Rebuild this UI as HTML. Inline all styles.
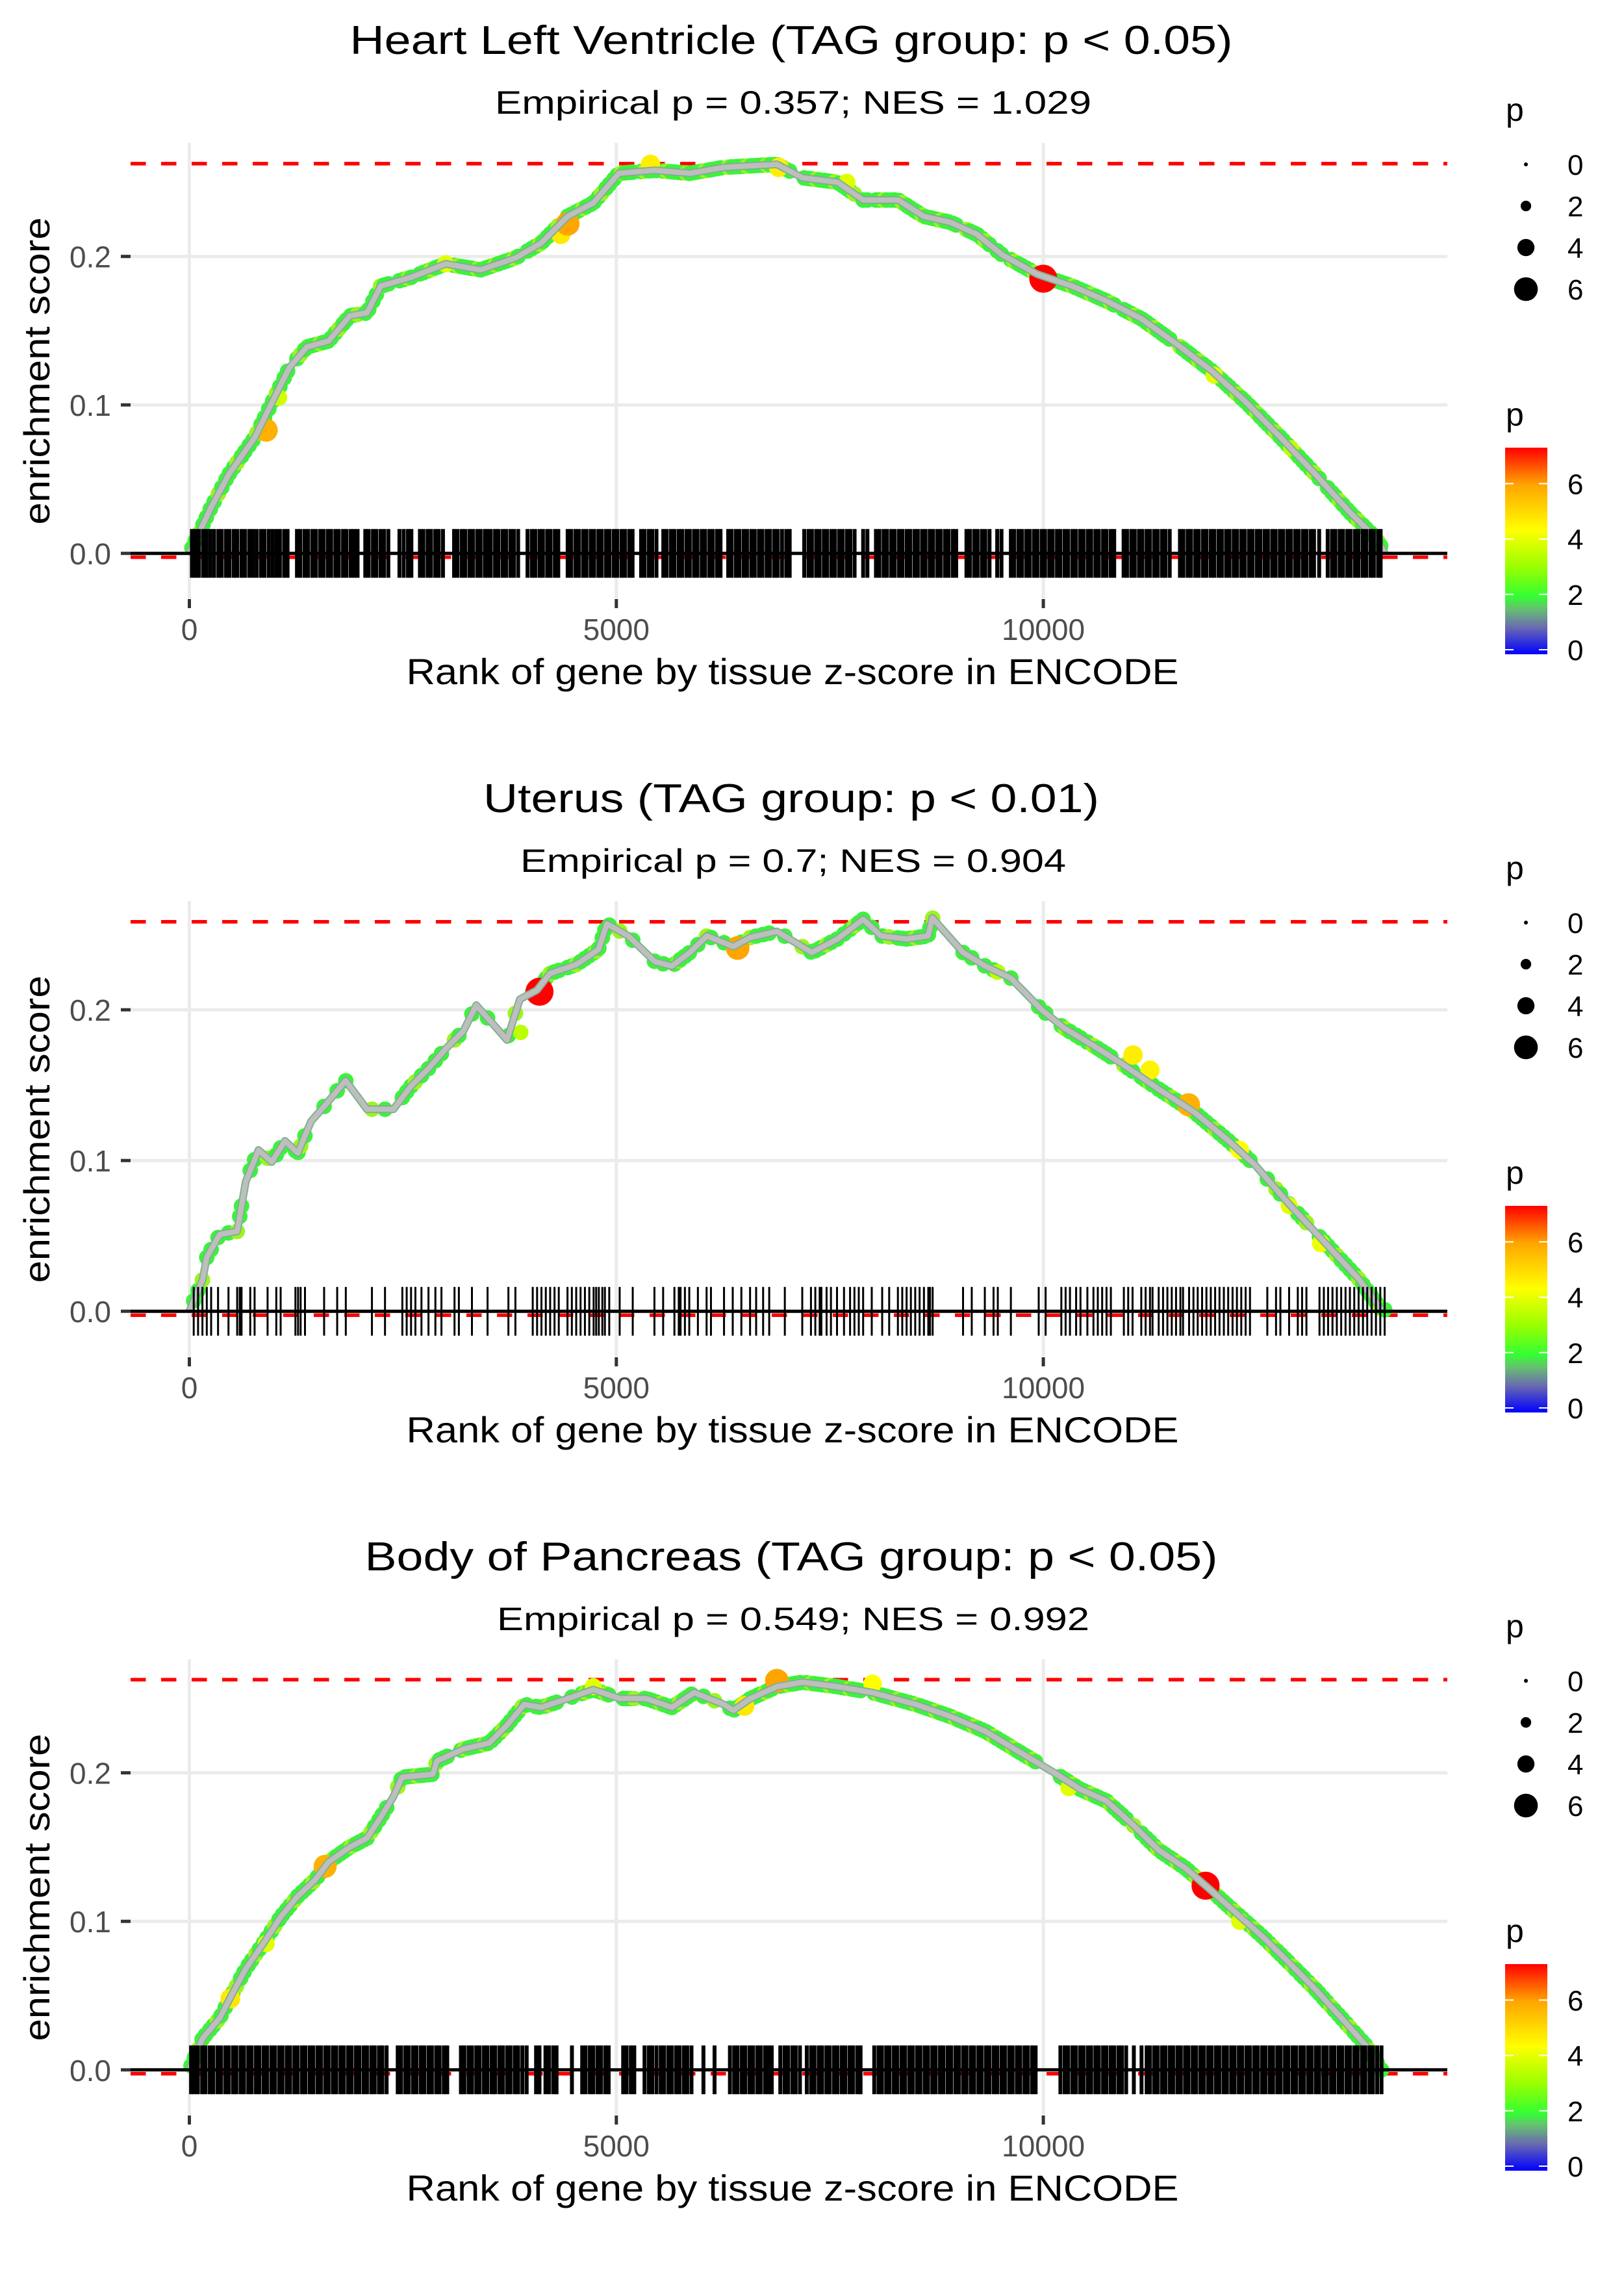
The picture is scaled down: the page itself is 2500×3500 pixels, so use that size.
<!DOCTYPE html>
<html><head><meta charset="utf-8">
<style>
body{margin:0;background:#fff}
svg{display:block;font-family:"Liberation Sans",Arial,sans-serif}
</style></head>
<body>
<svg id="chart" width="2500" height="3500" viewBox="0 0 2500 3500" xmlns="http://www.w3.org/2000/svg">
<defs>
<linearGradient id="pgrad" x1="0" y1="1" x2="0" y2="0">
<stop offset="0" stop-color="#0000ff"/>
<stop offset="0.13" stop-color="#6a6ab0"/>
<stop offset="0.22" stop-color="#66c070"/>
<stop offset="0.28" stop-color="#33ff33"/>
<stop offset="0.42" stop-color="#99ff00"/>
<stop offset="0.6" stop-color="#ffff00"/>
<stop offset="0.82" stop-color="#ffa500"/>
<stop offset="1" stop-color="#ff0000"/>
</linearGradient>
</defs>
</svg>
<script>
const tickValuesX=[0,5000,10000];
const tickLabelsX=['0','5000','10000'];
const tickValuesY=[0,0.1,0.2];
const tickLabelsY=['0.0','0.1','0.2'];
const legendSizeValues=[0,2,4,6];
const legendColorValues=[0,2,4,6];
const titles=['Heart Left Ventricle (TAG group: p < 0.05)','Uterus (TAG group: p < 0.01)','Body of Pancreas (TAG group: p < 0.05)'];
const subtitles=['Empirical p = 0.357; NES = 1.029','Empirical p = 0.7; NES = 0.904','Empirical p = 0.549; NES = 0.992'];
const esMax=[0.2625,0.2584,0.2627];
const esMin=[-0.0026,-0.0026,-0.0026];

const esRanks1=[0,255,460,765,970,1170,1375,1630,1880,2080,2240,2600,3000,3410,3820,4120,4430,4730,5030,5450,5860,6260,6880,7180,7590,7890,8300,8600,8910,9220,9520,9930,10340,10740,11150,11560,11970,12370,12780,13190,13600,13900,14000];
const esValues1=[0,0.031,0.053,0.078,0.102,0.125,0.139,0.143,0.160,0.162,0.180,0.186,0.195,0.191,0.199,0.209,0.227,0.236,0.256,0.258,0.256,0.260,0.262,0.253,0.250,0.238,0.238,0.227,0.223,0.215,0.201,0.188,0.180,0.170,0.158,0.141,0.123,0.102,0.078,0.053,0.027,0.010,0.0];
const esRanks2=[0,155,205,357,560,660,810,965,1120,1270,1425,1580,1830,2080,2390,2590,2800,3000,3210,3360,3720,3870,4070,4220,4530,4790,4890,5140,5450,5650,5860,6060,6370,6570,6880,7290,7590,7890,8100,8400,8650,8700,9060,9320,9620,9980,10240,10650,10950,11360,11770,12170,12480,12880,13290,13700,13960];
const esValues2=[0,0.021,0.036,0.051,0.053,0.086,0.107,0.099,0.113,0.105,0.126,0.136,0.153,0.134,0.134,0.149,0.161,0.174,0.186,0.203,0.180,0.207,0.213,0.224,0.230,0.240,0.257,0.249,0.232,0.229,0.238,0.249,0.242,0.248,0.252,0.238,0.247,0.260,0.249,0.247,0.249,0.261,0.238,0.229,0.221,0.200,0.188,0.174,0.163,0.147,0.132,0.113,0.097,0.071,0.046,0.021,0.001];
const esRanks3=[0,153,357,510,660,865,1070,1270,1475,1630,1880,2080,2240,2390,2490,2850,2900,3210,3510,3720,3920,4120,4430,4730,5040,5350,5650,5910,6260,6370,6570,6880,7180,7590,8000,8510,8910,9320,9720,10130,10430,10740,11050,11350,11660,11960,12270,12580,12880,13190,13490,13800,13960];
const esValues3=[0,0.021,0.035,0.052,0.068,0.085,0.103,0.117,0.128,0.140,0.150,0.156,0.170,0.184,0.197,0.199,0.208,0.216,0.220,0.232,0.246,0.244,0.250,0.256,0.250,0.250,0.244,0.254,0.246,0.242,0.250,0.258,0.261,0.258,0.254,0.246,0.238,0.228,0.214,0.200,0.189,0.181,0.165,0.148,0.136,0.121,0.105,0.089,0.072,0.054,0.035,0.015,0.0];

const rug1=[30,70,110,160,200,245,290,340,380,430,470,520,560,610,650,700,745,790,840,880,930,975,1020,1060,1110,1150,1260,1300,1350,1390,1440,1480,1530,1570,1620,1660,1710,1750,1800,1840,1890,1930,1970,2060,2100,2150,2190,2240,2280,2330,2460,2510,2560,2600,2700,2740,2790,2830,2880,2920,2970,3100,3140,3190,3230,3280,3320,3370,3410,3460,3490,3530,3580,3620,3670,3710,3760,3800,3850,3960,4010,4050,4100,4140,4190,4230,4280,4320,4430,4470,4520,4560,4610,4650,4700,4740,4790,4830,4880,4920,4970,5010,5060,5100,5150,5190,5290,5330,5380,5420,5470,5550,5590,5640,5680,5730,5770,5820,5860,5910,5950,6000,6040,6090,6130,6180,6220,6310,6350,6400,6440,6490,6530,6580,6620,6670,6710,6760,6800,6850,6890,6940,6990,7030,7200,7250,7290,7340,7380,7430,7470,7520,7560,7610,7650,7700,7740,7790,7890,7940,8040,8080,8130,8170,8220,8260,8310,8350,8400,8440,8490,8530,8580,8620,8670,8710,8760,8800,8850,8890,8940,8980,9100,9140,9190,9230,9280,9320,9370,9460,9510,9620,9660,9710,9750,9800,9840,9890,9930,9980,10020,10070,10110,10160,10200,10250,10290,10340,10380,10430,10470,10520,10560,10610,10650,10700,10740,10790,10830,10940,10980,11030,11070,11120,11160,11210,11250,11300,11340,11390,11430,11480,11600,11640,11690,11730,11780,11820,11870,11910,11960,12000,12050,12090,12140,12180,12230,12270,12320,12360,12410,12450,12500,12540,12590,12630,12680,12720,12770,12810,12860,12900,12950,12990,13040,13080,13130,13170,13230,13330,13380,13420,13470,13510,13560,13600,13650,13690,13740,13780,13830,13870,13920,13950];
const rug2=[51,102,153,204,255,336,458,560,590,611,713,764,916,1018,1069,1242,1273,1303,1354,1578,1731,1832,2138,2291,2494,2545,2596,2647,2718,2800,2881,2952,3105,3156,3309,3492,3736,3818,4021,4072,4123,4174,4225,4276,4326,4428,4479,4530,4581,4632,4683,4734,4764,4795,4836,4866,4917,5039,5192,5446,5548,5680,5731,5752,5803,5854,5955,6057,6108,6261,6363,6464,6566,6637,6719,6790,6973,7177,7279,7330,7381,7401,7462,7513,7584,7666,7737,7788,7839,7890,7991,8113,8195,8297,8348,8399,8449,8500,8551,8602,8653,8673,8704,9060,9162,9315,9417,9467,9620,9946,10027,10211,10261,10312,10384,10435,10516,10587,10638,10689,10740,10791,10943,10994,11045,11147,11198,11249,11279,11351,11402,11453,11504,11554,11605,11636,11707,11758,11808,11859,11910,11961,12012,12063,12114,12165,12216,12267,12318,12369,12420,12623,12725,12776,12878,12980,13030,13081,13234,13285,13335,13386,13437,13488,13539,13590,13641,13692,13743,13793,13844,13895,13946,13997];
const rug3=[20,60,100,150,190,240,280,330,370,420,460,510,550,600,640,690,730,780,820,870,910,960,1000,1050,1090,1140,1180,1230,1270,1320,1360,1410,1450,1500,1540,1590,1630,1680,1720,1770,1810,1860,1900,1950,1990,2040,2080,2130,2170,2220,2260,2310,2440,2480,2530,2570,2620,2660,2710,2750,2800,2840,2890,2930,2980,3020,3180,3220,3270,3310,3360,3400,3450,3490,3540,3580,3630,3670,3720,3760,3810,3850,3900,3950,4060,4100,4170,4210,4260,4300,4480,4600,4640,4690,4730,4780,4820,4870,4910,5080,5120,5170,5210,5330,5380,5420,5470,5520,5560,5610,5650,5700,5740,5790,5830,5880,6020,6150,6330,6380,6420,6470,6510,6560,6600,6650,6690,6740,6780,6820,6920,6970,7010,7060,7100,7150,7230,7280,7320,7370,7410,7460,7500,7550,7590,7640,7680,7730,7770,7820,7860,8020,8070,8110,8160,8200,8250,8290,8340,8380,8430,8470,8520,8560,8610,8650,8700,8740,8790,8830,8880,8920,8970,9010,9060,9100,9150,9190,9240,9280,9330,9370,9420,9460,9510,9550,9600,9640,9690,9730,9780,9820,9870,9910,10200,10250,10290,10340,10380,10430,10470,10520,10560,10610,10650,10700,10740,10790,10830,10880,10920,10970,11060,11150,11210,11250,11300,11340,11390,11430,11480,11520,11570,11610,11660,11700,11750,11790,11840,11880,11930,11970,12020,12060,12110,12150,12200,12240,12290,12330,12380,12420,12470,12510,12560,12600,12650,12690,12740,12780,12830,12870,12920,12960,13010,13050,13100,13140,13190,13230,13280,13320,13370,13410,13460,13500,13550,13590,13640,13680,13730,13770,13820,13860,13910,13960];

const hiRanks1=[3000,1050,12000,12900,7700,5400,6900,4350,900,4430,10000];
const hiES1=[0.195,0.105,0.120,0.071,0.250,0.262,0.260,0.215,0.083,0.222,0.185];
const hiP1=[4.0,3.8,4.0,3.6,4.0,4.7,4.7,4.8,5.8,6.0,7.3];
const hiRanks2=[3880,9460,12880,13250,12300,11250,11050,11700,6420,4100];
const hiES2=[0.185,0.225,0.070,0.045,0.107,0.160,0.170,0.137,0.241,0.212];
const hiP2=[3.5,3.5,4.0,4.2,4.4,4.6,4.7,5.8,6.0,7.3];
const hiRanks3=[900,4730,10300,12300,8000,480,6500,1590,6880,11900];
const hiES3=[0.085,0.258,0.190,0.100,0.260,0.048,0.245,0.137,0.262,0.124];
const hiP3=[4.0,4.0,4.0,4.0,4.4,4.8,4.8,5.8,6.0,7.3];

const panels=[
 {oy:0,zero:851.7,unit:2285,esR:esRanks1,esV:esValues1,rug:rug1,rugW:6,hr:hiRanks1,he:hiES1,hp:hiP1},
 {oy:1167,zero:2018.2,unit:2320,esR:esRanks2,esV:esValues2,rug:rug2,rugW:3,hr:hiRanks2,he:hiES2,hp:hiP2},
 {oy:2334,zero:3185.8,unit:2286,esR:esRanks3,esV:esValues3,rug:rug3,rugW:6,hr:hiRanks3,he:hiES3,hp:hiP3}
];
const NS='http://www.w3.org/2000/svg';
const svg=document.getElementById('chart');
const PL=201, PR=2228;
function mk(tag,attrs,parent){const e=document.createElementNS(NS,tag);for(const k in attrs)e.setAttribute(k,attrs[k]);(parent||svg).appendChild(e);return e;}
function xs(r){return 291.5+r*0.13146;}
function interp(R,V,r){for(let i=1;i<R.length;i++){if(r<=R[i]){const t=(r-R[i-1])/(R[i]-R[i-1]);return V[i-1]+t*(V[i]-V[i-1]);}}return V[V.length-1];}
const cStops=[[0,[0,0,255]],[0.95,[106,106,176]],[1.6,[102,192,112]],[2.05,[51,255,51]],[3.05,[153,255,0]],[4.4,[255,255,0]],[6,[255,165,0]],[7.3,[255,0,0]]];
function pColor(p){for(let i=1;i<cStops.length;i++){if(p<=cStops[i][0]){const a=cStops[i-1],b=cStops[i];const t=(p-a[0])/(b[0]-a[0]);const c=a[1].map((v,j)=>Math.round(v+t*(b[1][j]-v)));return 'rgb('+c.join(',')+')';}}return 'rgb(255,0,0)';}
function pRadius(p){return 3+2.55*p;}

panels.forEach((P,pi)=>{
 const g=mk('g',{});
 
 
 const ys=v=>P.zero-v*P.unit;
 const top=220+P.oy, bot=921+P.oy;
 tickValuesY.forEach((v,i)=>{
  const l=mk('line',{x1:PL,x2:PR,y1:ys(v),y2:ys(v),stroke:'#ebebeb','stroke-width':5},g);
  
  
  const t=mk('line',{x1:186,x2:PL,y1:ys(v),y2:ys(v),stroke:'#333','stroke-width':5},g);
  
  
  const tx=mk('text',{x:171,y:ys(v)+17,'text-anchor':'end','font-size':46,fill:'#4d4d4d'},g);
  tx.textContent=tickLabelsY[i];
  
  
 });
 tickValuesX.forEach((v,i)=>{
  const l=mk('line',{x1:xs(v),x2:xs(v),y1:top,y2:bot,stroke:'#ebebeb','stroke-width':5},g);
  
  
  const t=mk('line',{x1:xs(v),x2:xs(v),y1:bot+1,y2:bot+15,stroke:'#333','stroke-width':5},g);
  
  
  const tx=mk('text',{x:xs(v),y:985+P.oy,'text-anchor':'middle','font-size':46,fill:'#4d4d4d'},g);
  tx.textContent=tickLabelsX[i];
  
  
 });
 const dTop=mk('line',{x1:PL,x2:PR,y1:ys(esMax[pi]),y2:ys(esMax[pi]),stroke:'#ff0000','stroke-width':5.5,'stroke-dasharray':'23.5,23.5'},g);
 
 
 const dBot=mk('line',{x1:PL,x2:PR,y1:ys(esMin[pi]),y2:ys(esMin[pi]),stroke:'#ff0000','stroke-width':5.5,'stroke-dasharray':'23.5,23.5'},g);
 
 
 const ptsG=mk('g',{},g);
 
 
 P.rug.forEach((r,i)=>{
  const c=mk('circle',{cx:xs(r),cy:ys(interp(P.esR,P.esV,r)),r:12,fill:(i%5===2?'#9cf51e':'#3cf23c')},ptsG);
  
  
 });
 P.hr.forEach((r,i)=>{
  const c=mk('circle',{cx:xs(r),cy:ys(P.he[i]),r:pRadius(P.hp[i]),fill:pColor(P.hp[i])},g);
  
  
 });
 const d=P.esR.map((r,i)=>(i?'L':'M')+xs(r).toFixed(1)+','+ys(P.esV[i]).toFixed(1)).join(' ');
 const ln0=mk('path',{d:d,fill:'none',stroke:'#7fb08f','stroke-width':12,'stroke-linejoin':'round'},g);
 
 
 const ln=mk('path',{d:d,fill:'none',stroke:'#bebebe','stroke-width':8,'stroke-linejoin':'round'},g);
 
 
 const rg=mk('g',{},g);
 
 
 P.rug.forEach(r=>{
  const l=mk('line',{x1:xs(r),x2:xs(r),y1:P.zero-37.5,y2:P.zero+37.5,stroke:'#000','stroke-width':P.rugW},rg);
  
  
 });
 const z=mk('line',{x1:PL,x2:PR,y1:P.zero,y2:P.zero,stroke:'#000','stroke-width':5},g);
 
 
 const t1=mk('text',{x:1218,y:83+P.oy,'text-anchor':'middle','font-size':62,fill:'#000',textLength:[1359,948,1313][pi],lengthAdjust:'spacingAndGlyphs'},g);
 t1.textContent=titles[pi];
 
 
 const t2=mk('text',{x:1221,y:175+P.oy,'text-anchor':'middle','font-size':50,fill:'#000',textLength:[918,840,912][pi],lengthAdjust:'spacingAndGlyphs'},g);
 t2.textContent=subtitles[pi];
 
 
 const xt=mk('text',{x:1220,y:1053+P.oy,'text-anchor':'middle','font-size':56,fill:'#000',textLength:1189,lengthAdjust:'spacingAndGlyphs'},g);
 xt.textContent='Rank of gene by tissue z-score in ENCODE';
 
 
 const yt=mk('text',{x:0,y:0,'text-anchor':'middle','font-size':56,fill:'#000',textLength:473,lengthAdjust:'spacingAndGlyphs',transform:'translate(76,'+(571+P.oy)+') rotate(-90)'},g);
 yt.textContent='enrichment score';
 
 
 const lg=mk('g',{},g);
 
 
 const lt=mk('text',{x:2318,y:186+P.oy,'font-size':50,fill:'#000'},lg);
 lt.textContent='p';
 
 
 legendSizeValues.forEach((v,i)=>{
  const cy=253+i*64+P.oy;
  const c=mk('circle',{cx:2349,cy:cy,r:pRadius(v),fill:'#000'},lg);
  
  
  const t=mk('text',{x:2413,y:cy+16,'font-size':44,fill:'#000'},lg);
  t.textContent=String(v);
  
  
 });
 const cg=mk('g',{},g);
 
 
 const ct=mk('text',{x:2318,y:655+P.oy,'font-size':50,fill:'#000'},cg);
 ct.textContent='p';
 
 
 const barTop=689+P.oy, barBot=1007+P.oy;
 const bar=mk('rect',{x:2317,y:barTop,width:65,height:barBot-barTop,fill:'url(#pgrad)'},cg);
 
 
 const cy0=1000+P.oy, per=(1000-689)/7.3;
 legendColorValues.forEach(v=>{
  const y=cy0-v*per;
  const a=mk('line',{x1:2317,x2:2330,y1:y,y2:y,stroke:'#fff','stroke-width':2},cg);
  
  
  const b=mk('line',{x1:2369,x2:2382,y1:y,y2:y,stroke:'#fff','stroke-width':2},cg);
  
  
  const t=mk('text',{x:2413,y:y+16,'font-size':44,fill:'#000'},cg);
  t.textContent=String(v);
  
  
 });
});
</script>
</body></html>
